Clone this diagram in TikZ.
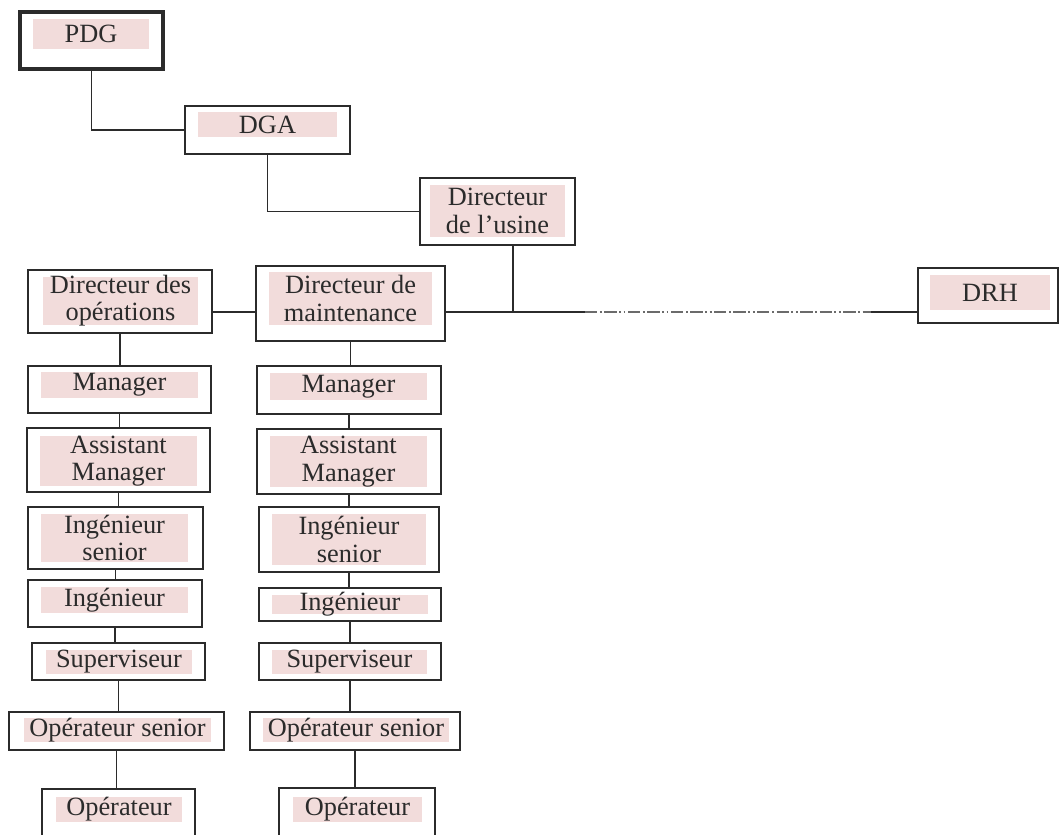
\documentclass[tikz,border=0pt]{standalone}
\usepackage{fontspec}
\setmainfont{Liberation Serif}
\usepackage{tikz}
\usetikzlibrary{fit,calc}
\definecolor{tagpink}{HTML}{F2DCDB}
\definecolor{inkgray}{HTML}{2B2B2B}

\begin{document}
\begin{tikzpicture}[x=0.02cm,y=-0.02cm,
  post/.style={draw=inkgray,line width=0.9pt,inner sep=0pt},
  tag/.style={fill=tagpink,inner sep=0pt},
  txt/.style={align=center,text=inkgray,inner sep=0pt,
    font=\fontsize{15}{15.5}\selectfont},
  link/.style={draw=inkgray,line width=1.1pt},
  dashdot/.style={draw=inkgray!70,line width=0.8pt,
    dash pattern=on 7pt off 1.5pt on 1pt off 1.5pt on 7pt off 1.5pt on 1pt off 1.5pt on 1pt off 1.5pt}]
\useasboundingbox (0,0) rectangle (1059,835);
\fill[white] (0,0) rectangle (1059,835);
\clip (0,0) rectangle (1059,835);

% top of the chain
\node[post,fit={(20,12) (163,69)},line width=1.8pt] (pdg) {};
\node[tag,fit={(33,19) (149,49)},label={[txt]center:PDG}] {};
\node[post,fit={(185,106) (350,154)}] (dga) {};
\node[tag,fit={(198,112) (337,137)},label={[txt]center:DGA}] {};
\node[post,fit={(420,178) (575,245)}] (usine) {};
\node[tag,fit={(430,185) (565,237)},label={[txt]center:Directeur\\de l’usine}] {};
\node[post,fit={(918,268) (1058,323)}] (drh) {};
\node[tag,fit={(930,275) (1050,310)},label={[txt]center:DRH}] {};

% left column
\node[post,fit={(28,270) (212,333)}] (ops) {};
\node[tag,fit={(43,277) (198,325)},label={[txt]center:Directeur des\\opérations}] {};
\node[post,fit={(28,366) (211,413)}] (mgrA) {};
\node[tag,fit={(41,372) (198,398)},label={[txt]center:Manager}] {};
\node[post,fit={(27,428) (210,492)}] (asstA) {};
\node[tag,fit={(40,436) (197,486)},label={[txt]center:Assistant\\Manager}] {};
\node[post,fit={(28,507) (203,569)}] (ingsA) {};
\node[tag,fit={(41,514) (188,562)},label={[txt]center:Ingénieur\\senior}] {};
\node[post,fit={(28,580) (202,627)}] (ingA) {};
\node[tag,fit={(41,587) (188,613)},label={[txt]center:Ingénieur}] {};
\node[post,fit={(32,643) (205,680)}] (supA) {};
\node[tag,fit={(46,650) (192,674)},label={[txt]center:Superviseur}] {};
\node[post,fit={(9,712) (224,750)}] (opsA) {};
\node[tag,fit={(24,718) (211,742)},label={[txt]center:Opérateur senior}] {};
\node[post,fit={(42,789) (195,850)}] (opA) {};
\node[tag,fit={(56,797) (182,822)},label={[txt]center:Opérateur}] {};

% right column
\node[post,fit={(256,266) (445,341)}] (maint) {};
\node[tag,fit={(269,272) (432,325)},label={[txt]center:Directeur de\\maintenance}] {};
\node[post,fit={(257,366) (441,414)}] (mgrB) {};
\node[tag,fit={(270,373) (427,400)},label={[txt]center:Manager}] {};
\node[post,fit={(257,429) (441,494)}] (asstB) {};
\node[tag,fit={(270,436) (427,487)},label={[txt]center:Assistant\\Manager}] {};
\node[post,fit={(259,507) (439,572)}] (ingsB) {};
\node[tag,fit={(272,514) (426,565)},label={[txt]center:Ingénieur\\senior}] {};
\node[post,fit={(259,588) (441,621)}] (ingB) {};
\node[tag,fit={(272,595) (428,614)},label={[txt]center:Ingénieur}] {};
\node[post,fit={(259,643) (441,680)}] (supB) {};
\node[tag,fit={(272,650) (427,674)},label={[txt]center:Superviseur}] {};
\node[post,fit={(250,712) (460,750)}] (opsB) {};
\node[tag,fit={(263,718) (449,742)},label={[txt]center:Opérateur senior}] {};
\node[post,fit={(279,788) (435,850)}] (opB) {};
\node[tag,fit={(293,797) (422,822)},label={[txt]center:Opérateur}] {};

% connectors
\coordinate (hub) at (513,312);
\coordinate (dashA) at (585,312);
\coordinate (dashB) at (871,312);
\draw[link] (pdg.south) |- (dga.west);
\draw[link] (dga.south) |- (usine.west);
\draw[link] (usine.south -| hub) -- (hub);
\draw[link] (maint.east |- hub) -- (dashA);
\draw[dashdot] (dashA) -- (dashB);
\draw[link] (dashB) -- (drh.west |- hub);
\draw[link] (ops.east |- hub) -- (maint.west |- hub);
\foreach \a/\b in {ops/mgrA,mgrA/asstA,asstA/ingsA,ingsA/ingA,ingA/supA,supA/opsA,opsA/opA,
  maint/mgrB,mgrB/asstB,asstB/ingsB,ingsB/ingB,ingB/supB,supB/opsB,opsB/opB}
  \draw[link] (\a.south) -- (\a.south |- \b.north);
\end{tikzpicture}
\end{document}
